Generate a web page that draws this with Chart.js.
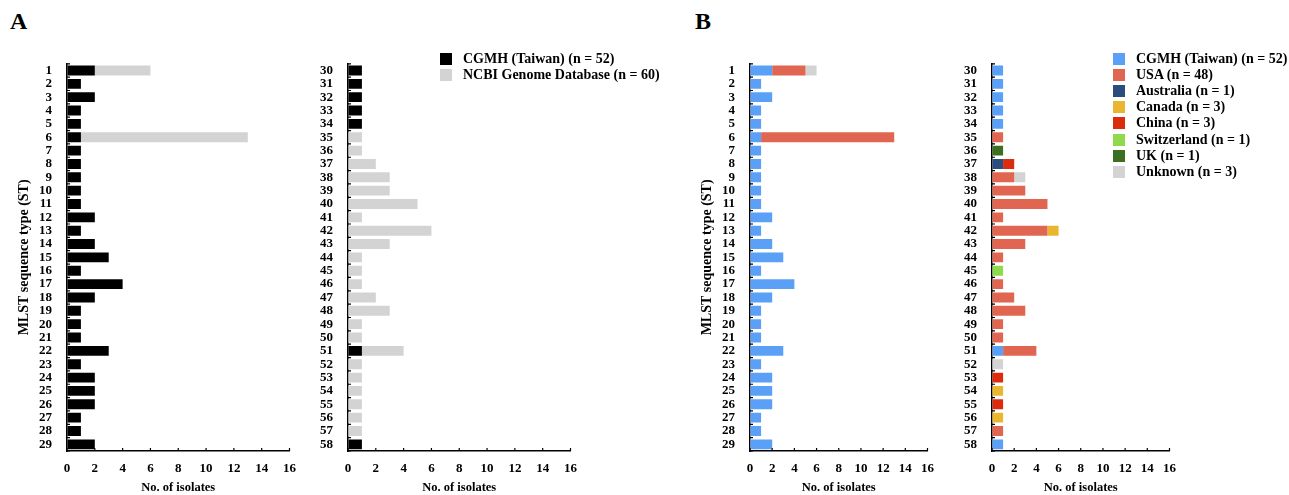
<!DOCTYPE html>
<html>
<head>
<meta charset="utf-8">
<script src="https://cdn.jsdelivr.net/npm/chart.js@4"></script>
<style>
  body { margin: 0; background: #fff; width: 1289px; height: 495px; position: relative; overflow: hidden;
         font-family: "Liberation Serif", "Times New Roman", serif; color: #000; }
  .box { position: absolute; }
  .letter { position: absolute; font-weight: bold; font-size: 24px; line-height: 24px; }
  .legend { position: absolute; font-weight: bold; font-size: 14px; }
  .legend .row { height: 16.1px; display: flex; align-items: center; white-space: nowrap; }
  .legend .sw { width: 12px; height: 12px; margin-right: 11px; flex: none; }
</style>
</head>
<body>
<div class="letter" style="left:10px;top:9px;">A</div>
<div class="letter" style="left:695px;top:9px;">B</div>

<div class="box" style="left:10px;top:41px;width:296px;height:454px;"><canvas id="aLeft"></canvas></div>
<div class="box" style="left:300px;top:41px;width:287px;height:454px;"><canvas id="aRight"></canvas></div>
<div class="box" style="left:693px;top:41px;width:251px;height:454px;"><canvas id="bLeft"></canvas></div>
<div class="box" style="left:950px;top:41px;width:236px;height:454px;"><canvas id="bRight"></canvas></div>

<div class="legend" id="legendA" style="left:440px;top:51px;"></div>
<div class="legend" id="legendB" style="left:1113px;top:51px;"></div>

<script>
// sequence types, split over two panels
const stLeft = ['1','2','3','4','5','6','7','8','9','10','11','12','13','14','15','16','17','18','19','20',
  '21','22','23','24','25','26','27','28','29'];
const stRight = ['30','31','32','33','34','35','36','37','38','39','40','41','42','43','44','45','46','47','48','49',
  '50','51','52','53','54','55','56','57','58'];

// counts per ST (1..58)
const cgmh = [2,1,2,1,1,1,1,1,1,1,1,2,1,2,3,1,4,2,1,1,1,3,1,2,2,2,1,1,2,
  1,1,1,1,1,0,0,0,0,0,0,0,0,0,0,0,0,0,0,0,0,1,0,0,0,0,0,0,1];
const ncbi = [4,0,0,0,0,12,0,0,0,0,0,0,0,0,0,0,0,0,0,0,0,0,0,0,0,0,0,0,0,
  0,0,0,0,0,1,1,2,3,3,5,1,6,3,1,1,1,2,3,1,1,3,1,1,1,1,1,1,0];

const usa = [3,0,0,0,0,12,0,0,0,0,0,0,0,0,0,0,0,0,0,0,0,0,0,0,0,0,0,0,0,
  0,0,0,0,0,1,0,0,2,3,5,1,5,3,1,0,1,2,3,1,1,3,0,0,0,0,0,1,0];
const australia = [0,0,0,0,0,0,0,0,0,0,0,0,0,0,0,0,0,0,0,0,0,0,0,0,0,0,0,0,0,
  0,0,0,0,0,0,0,1,0,0,0,0,0,0,0,0,0,0,0,0,0,0,0,0,0,0,0,0,0];
const canada = [0,0,0,0,0,0,0,0,0,0,0,0,0,0,0,0,0,0,0,0,0,0,0,0,0,0,0,0,0,
  0,0,0,0,0,0,0,0,0,0,0,0,1,0,0,0,0,0,0,0,0,0,0,0,1,0,1,0,0];
const china = [0,0,0,0,0,0,0,0,0,0,0,0,0,0,0,0,0,0,0,0,0,0,0,0,0,0,0,0,0,
  0,0,0,0,0,0,0,1,0,0,0,0,0,0,0,0,0,0,0,0,0,0,0,1,0,1,0,0,0];
const switzerland = [0,0,0,0,0,0,0,0,0,0,0,0,0,0,0,0,0,0,0,0,0,0,0,0,0,0,0,0,0,
  0,0,0,0,0,0,0,0,0,0,0,0,0,0,0,1,0,0,0,0,0,0,0,0,0,0,0,0,0];
const uk = [0,0,0,0,0,0,0,0,0,0,0,0,0,0,0,0,0,0,0,0,0,0,0,0,0,0,0,0,0,
  0,0,0,0,0,0,1,0,0,0,0,0,0,0,0,0,0,0,0,0,0,0,0,0,0,0,0,0,0];
const unknown = [1,0,0,0,0,0,0,0,0,0,0,0,0,0,0,0,0,0,0,0,0,0,0,0,0,0,0,0,0,
  0,0,0,0,0,0,0,0,1,0,0,0,0,0,0,0,0,0,0,0,0,0,1,0,0,0,0,0,0];

const xTicks = [0,2,4,6,8,10,12,14,16];

const seriesA = [
  { name: 'CGMH (Taiwan) (n = 52)', values: cgmh, color: '#000000' },
  { name: 'NCBI Genome Database (n = 60)', values: ncbi, color: '#d3d3d3' }
];
const seriesB = [
  { name: 'CGMH (Taiwan) (n = 52)', values: cgmh, color: '#5aa0f6' },
  { name: 'USA (n = 48)', values: usa, color: '#e06651' },
  { name: 'Australia (n = 1)', values: australia, color: '#2b4c7d' },
  { name: 'Canada (n = 3)', values: canada, color: '#e9b630' },
  { name: 'China (n = 3)', values: china, color: '#dc2c0e' },
  { name: 'Switzerland (n = 1)', values: switzerland, color: '#8fd94c' },
  { name: 'UK (n = 1)', values: uk, color: '#3c6f20' },
  { name: 'Unknown (n = 3)', values: unknown, color: '#d3d3d3' }
];

const serif = '"Liberation Serif", "Times New Roman", serif';
const tickFont = { family: serif, size: 13, weight: 'bold' };
const titleFont = { family: serif, size: 12.5, weight: 'bold' };

// small tick marks pointing into the plot, like the original figure
const innerTicks = {
  id: 'innerTicks',
  afterDraw(chart) {
    const ctx = chart.ctx, x = chart.scales.x, y = chart.scales.y;
    ctx.save();
    ctx.strokeStyle = '#000';
    ctx.lineWidth = 1.2;
    ctx.beginPath();
    for (let i = 0; i <= y.ticks.length; i++) {
      const py = y.getPixelForValue(i - 0.5);
      ctx.moveTo(x.left, py);
      ctx.lineTo(x.left + 3, py);
    }
    x.ticks.forEach(t => {
      const px = x.getPixelForValue(t.value);
      ctx.moveTo(px, x.top);
      ctx.lineTo(px, x.top - 3);
    });
    ctx.stroke();
    ctx.restore();
  }
};

function makeSets(series, part) {
  return series.map(s => ({
    label: s.name,
    data: part === 0 ? s.values.slice(0, 29) : s.values.slice(29),
    backgroundColor: s.color,
    barPercentage: 0.74,
    categoryPercentage: 1
  }));
}

function makeChart(id, labels, sets, yWidth, showTitle) {
  new Chart(document.getElementById(id), {
    type: 'bar',
    data: { labels: labels, datasets: sets },
    plugins: [innerTicks],
    options: {
      indexAxis: 'y',
      responsive: true,
      maintainAspectRatio: false,
      animation: false,
      layout: { padding: { top: 10, right: 12, left: 0, bottom: 0 } },
      plugins: { legend: { display: false }, tooltip: { enabled: false } },
      scales: {
        x: {
          stacked: true,
          min: 0,
          max: 16,
          afterBuildTicks: s => { s.ticks = xTicks.map(v => ({ value: v })); },
          ticks: { color: '#000', font: tickFont, padding: 10, maxRotation: 0 },
          grid: { drawOnChartArea: false, drawTicks: false },
          border: { color: '#000', width: 1.5 },
          title: { display: true, text: 'No. of isolates', color: '#000', font: titleFont, padding: 0 },
          afterFit: s => { s.height = 44; }
        },
        y: {
          stacked: true,
          ticks: { autoSkip: false, color: '#000', font: tickFont, padding: 15 },
          grid: { drawOnChartArea: false, drawTicks: false },
          border: { color: '#000', width: 1.5 },
          title: { display: showTitle, text: 'MLST sequence type (ST)', color: '#000',
                   font: { family: serif, size: 14, weight: 'bold' }, padding: { top: 6, bottom: 0 } },
          afterFit: s => { s.width = yWidth; }
        }
      }
    }
  });
}

makeChart('aLeft', stLeft, makeSets(seriesA, 0), 57, true);
makeChart('aRight', stRight, makeSets(seriesA, 1), 48, false);
makeChart('bLeft', stLeft, makeSets(seriesB, 0), 57, true);
makeChart('bRight', stRight, makeSets(seriesB, 1), 42, false);

function makeLegend(id, series) {
  const el = document.getElementById(id);
  series.forEach(s => {
    const row = document.createElement('div');
    row.className = 'row';
    row.innerHTML = '<span class="sw" style="background:' + s.color + '"></span><span>' + s.name + '</span>';
    el.appendChild(row);
  });
}
makeLegend('legendA', seriesA);
makeLegend('legendB', seriesB);
</script>
</body>
</html>
